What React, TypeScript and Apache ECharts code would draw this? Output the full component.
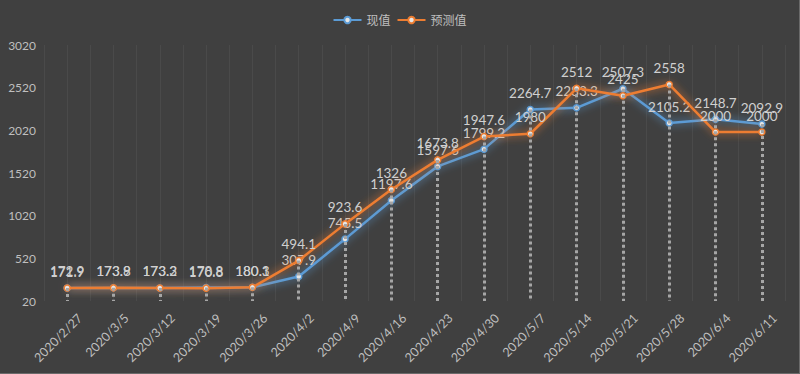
import React, { useEffect, useRef } from "react";
import * as echarts from "echarts";

const categories = [
  "2020/2/27", "2020/3/5", "2020/3/12", "2020/3/19", "2020/3/26", "2020/4/2",
  "2020/4/9", "2020/4/16", "2020/4/23", "2020/4/30", "2020/5/7", "2020/5/14",
  "2020/5/21", "2020/5/28", "2020/6/4", "2020/6/11",
];
const actualValues = [
  172.9, 173.8, 173.3, 178.8, 180.3, 307.9, 745.5, 1197.6, 1597.6, 1799.2,
  2264.7, 2283.3, 2507.3, 2105.2, 2148.7, 2092.9,
];
const forecastValues = [
  171.9, 173.9, 173.2, 170.8, 180.1, 494.1, 923.6, 1326, 1673.8, 1947.6,
  1980, 2512, 2425, 2558, 2000, 2000,
];
const yTicks = [20, 520, 1020, 1520, 2020, 2520, 3020];
const seriesNames = ["现值", "预测值"];

const BLUE = "#5b9bd5";
const ORANGE = "#ed7d31";
const TEXT = "#bfbfbf";
const LABEL = "#d0d0d0";
const FONT = "Lato, 'Noto Sans CJK SC', sans-serif";

export default function App() {
  const ref = useRef<HTMLDivElement>(null);
  useEffect(() => {
    if (!ref.current) return;
    const chart = echarts.init(ref.current, undefined, { renderer: "svg" });
    const yMin = yTicks[0];
    const yMax = yTicks[yTicks.length - 1];
    const dropData = categories.map((c, i) => [
      { coord: [i, Math.max(actualValues[i], forecastValues[i])] },
      { coord: [i, yMin] },
    ]);
    const mkSeries = (name: string, data: number[], color: string, z: number) => ({
      name,
      type: "line",
      data,
      xAxisIndex: 0,
      yAxisIndex: 0,
      z,
      symbol: "circle",
      symbolSize: 6,
      itemStyle: { color: "#e6e6e6", borderColor: color, borderWidth: 1.5 },
      lineStyle: { color, width: 2.5, shadowColor: color, shadowBlur: 8 },
      label: {
        show: true,
        position: "top",
        distance: 6,
        color: LABEL,
        fontSize: 13.5,
        fontFamily: FONT,
      },
    });
    chart.setOption({
      animation: false,
      backgroundColor: "#404040",
      textStyle: { fontFamily: FONT },
      legend: {
        top: 9,
        left: "center",
        itemWidth: 28,
        itemHeight: 8,
        itemGap: 6,
        textStyle: { color: TEXT, fontSize: 12, fontFamily: FONT },
        data: [
          { name: seriesNames[0], itemStyle: { color: "#e6e6e6", borderColor: BLUE } },
          { name: seriesNames[1], itemStyle: { color: "#e6e6e6", borderColor: ORANGE } },
        ],
      },
      grid: { left: 44, right: 14, top: 45, bottom: 72 },
      xAxis: [
        {
          type: "category",
          data: categories,
          boundaryGap: true,
          axisLine: { show: false },
          axisTick: { show: false },
          splitLine: { show: false },
          axisLabel: {
            rotate: 45,
            color: TEXT,
            fontSize: 12.5,
            fontFamily: FONT,
            interval: 0,
            margin: 2,
            verticalAlign: "top",
            padding: [12, 0, 0, 0],
          },
        },
        {
          type: "value",
          min: 0,
          max: categories.length * 2,
          interval: 1,
          show: true,
          position: "bottom",
          axisLine: { show: false },
          axisTick: { show: false },
          axisLabel: { show: false },
          splitLine: { show: true, lineStyle: { color: "#4a4a4a", width: 1 } },
        },
      ],
      yAxis: {
        type: "value",
        min: yMin,
        max: yMax,
        interval: 500,
        axisLine: { show: false },
        axisTick: { show: false },
        splitLine: { show: false },
        axisLabel: {
          color: TEXT,
          fontSize: 12,
          fontFamily: FONT,
          margin: 8,
          customValues: yTicks,
          formatter: (v: number) => String(v),
        },
      },
      series: [
        {
          type: "line",
          data: [],
          xAxisIndex: 0,
          yAxisIndex: 0,
          silent: true,
          z: 1,
          markLine: {
            symbol: ["none", "none"],
            silent: true,
            label: { show: false },
            lineStyle: { color: "#a6a6a6", type: [3, 3], width: 3 },
            data: dropData,
          },
        },
        mkSeries(seriesNames[0], actualValues, BLUE, 3),
        mkSeries(seriesNames[1], forecastValues, ORANGE, 4),
      ],
    });
    return () => chart.dispose();
  }, []);
  return (
    <div
      style={{
        position: "absolute",
        left: 0,
        top: 0,
        width: 800,
        height: 374,
        boxSizing: "border-box",
        borderRight: "1px solid #6a6a6a",
        borderBottom: "1px solid #6a6a6a",
        background: "#404040",
      }}
    >
      <div ref={ref} style={{ width: 799, height: 373 }} />
    </div>
  );
}
